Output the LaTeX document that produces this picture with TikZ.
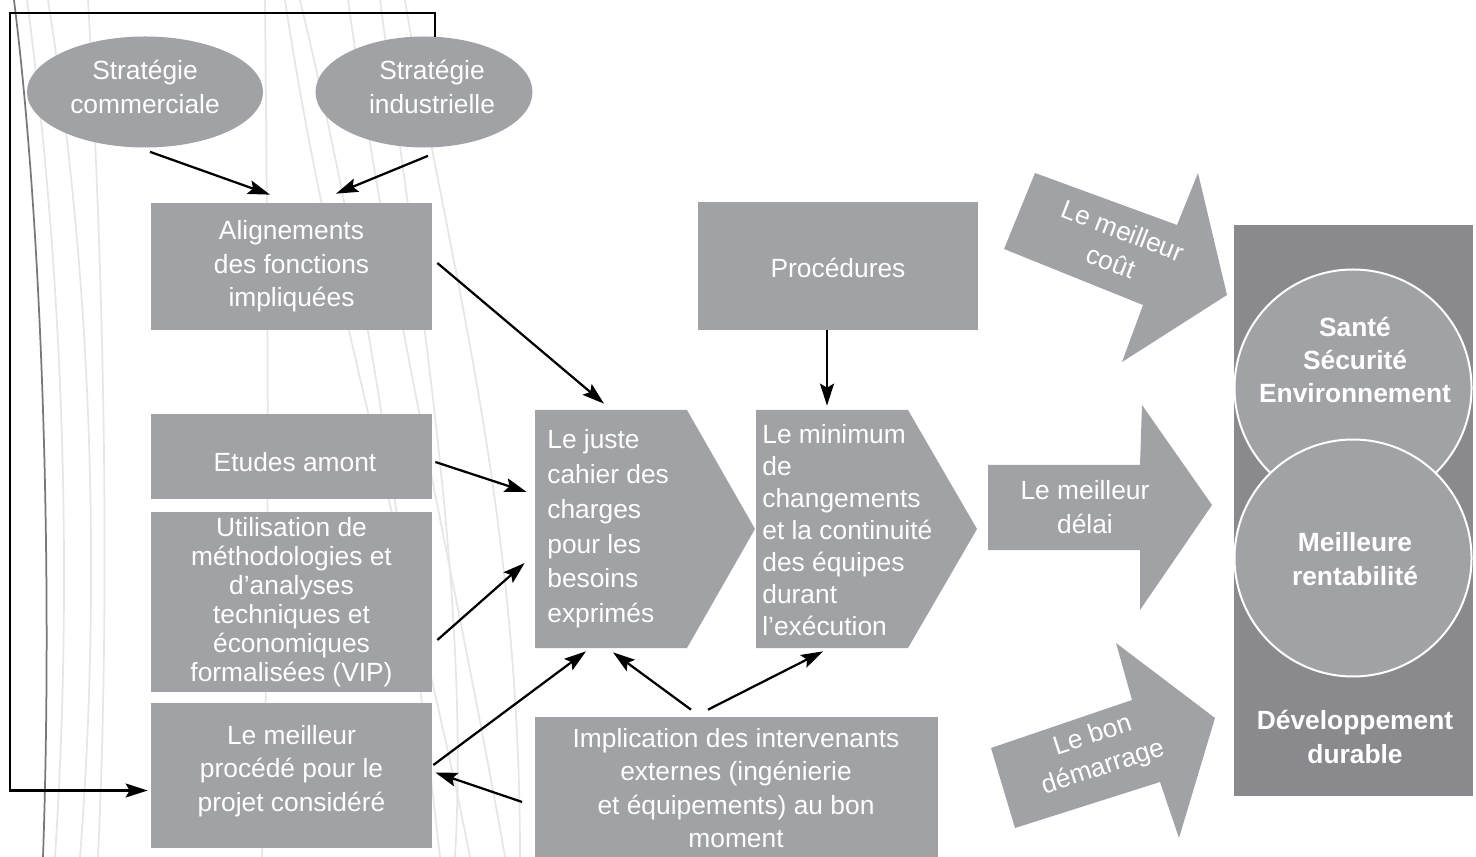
\documentclass[tikz,border=0pt]{standalone}
\usepackage{fontspec}
\setmainfont{Liberation Sans}
\usetikzlibrary{shapes.geometric,arrows.meta}
\definecolor{boxgray}{RGB}{161,162,166}
\definecolor{panelgray}{RGB}{138,138,142}
\definecolor{bgline}{RGB}{230,230,232}
\definecolor{darkline}{RGB}{120,120,124}
\begin{document}
\begin{tikzpicture}[x=0.02cm,y=-0.02cm,
  sz/.style 2 args={minimum width=#1*0.02cm, minimum height=#2*0.02cm},
  box/.style={fill=boxgray, text=white, inner sep=0pt, align=center, font=\fontsize{15}{19}\selectfont},
  ell/.style={ellipse, fill=boxgray, inner sep=0pt},
  txt/.style={text=white, inner sep=0pt, align=left, font=\fontsize{15}{19}\selectfont},
  ctxt/.style={text=white, inner sep=0pt, align=center, font=\fontsize{15}{19}\selectfont},
  btxt/.style={text=white, inner sep=0pt, align=center, font=\fontsize{15}{19}\selectfont\bfseries},
  area/.style={inner sep=0pt},
  conn/.style={draw=black, line width=0.045cm, -{Stealth[length=0.44cm,width=0.28cm,inset=0.08cm]}},
  fback/.style={draw=black, line width=0.045cm},
  bg/.style={draw=bgline, line width=0.035cm},
  blockarrow/.style={fill=boxgray}
]
\useasboundingbox (0,0) rectangle (1476,857);

% background decorative curves
\draw[bg] (27,0) .. controls (60,250) and (75,550) .. (55,857);
\draw[bg] (48,0) .. controls (95,300) and (100,600) .. (80,857);
\draw[bg] (88,0) .. controls (105,300) and (110,600) .. (98,857);
\draw[bg] (265,0) .. controls (268,300) and (270,600) .. (262,857);
\draw[bg] (285,0) .. controls (330,300) and (420,600) .. (470,857);
\draw[bg] (348,0) .. controls (390,300) and (460,600) .. (505,857);
\draw[bg] (380,0) .. controls (420,300) and (470,600) .. (455,857);
\draw[bg] (405,0) .. controls (445,250) and (520,500) .. (520,857);
\draw[bg] (300,0) .. controls (360,250) and (400,500) .. (440,857);
\draw[draw=darkline, line width=0.035cm] (14,0) .. controls (45,250) and (52,600) .. (43,857);

% ellipses
\node[ell, minimum width=236*0.02cm, minimum height=111*0.02cm] (sc) at (145,92) {};
\node[ctxt] (sct) at (145,87) {Stratégie\\commerciale};
\node[ell, minimum width=217*0.02cm, minimum height=111*0.02cm] (si) at (424,92) {};
\node[ctxt] (sit) at (432,87) {Stratégie\\industrielle};

% left boxes
\node[box, sz={281}{127}] (al) at (291.5,266.5) {Alignements\\des fonctions\\impliquées};
\node[box, sz={281}{85}] (et) at (291.5,456.5) {};
\node[ctxt] (ett) at (295,462) {Etudes amont};
\node[box, sz={281}{180}, font=\fontsize{15}{16.5}\selectfont] (ut) at (291.5,602) {Utilisation de\\méthodologies et\\d’analyses\\techniques et\\économiques\\formalisées (VIP)};
\node[box, sz={281}{145}] (mp) at (291.5,775.5) {};
\node[ctxt] (mpt) at (291.5,771) {Le meilleur\\procédé pour le\\projet considéré};

% procedures
\node[box, sz={280}{128}] (pr) at (838,266) {};
\node[ctxt] (prt) at (838,268) {Procédures};

% chevrons
\fill[boxgray] (535,410) -- (687,410) -- (755,529) -- (687,648) -- (535,648) -- cycle;
\fill[boxgray] (756,410) -- (908,410) -- (977,529) -- (908,648) -- (756,648) -- cycle;
\node[area, sz={152}{238}] (lj) at (611,529) {};
\node[area, sz={152}{238}] (lm) at (832,529) {};
\node[txt, anchor=west, font=\fontsize{15}{19.8}\selectfont] (ljt) at (547,529) {Le juste\\cahier des\\charges\\pour les\\besoins\\exprimés};
\node[txt, anchor=west, font=\fontsize{15}{18.2}\selectfont] (lmt) at (762,530) {Le minimum\\de\\changements\\et la continuité\\des équipes\\durant\\l’exécution};

% implication
\node[box, sz={403}{142}] (im) at (736,788) {Implication des intervenants\\externes (ingénierie\\et équipements) au bon\\moment};

% right panel
\node[fill=panelgray, sz={239}{571}, inner sep=0pt] (pn) at (1353.5,510.5) {};
\node[circle, fill=boxgray, draw=white, line width=0.04cm, minimum size=237*0.02cm, inner sep=0pt] (c1) at (1353,388) {};
\node[circle, fill=boxgray, draw=white, line width=0.04cm, minimum size=237*0.02cm, inner sep=0pt] (c2) at (1353,558) {};
\node[btxt] (sse) at (1355,360) {Santé\\Sécurité\\Environnement};
\node[btxt] (mr) at (1355,559) {Meilleure\\rentabilité};
\node[btxt] (dd) at (1355,737) {Développement\\durable};

% block arrows
\fill[blockarrow] (1035,173) -- (1177,225) -- (1198,173) -- (1227,295) -- (1122,362) -- (1143,305) -- (1004,249) -- cycle;
\node[ctxt, rotate=-21] (a1) at (1117,246) {Le meilleur\\coût};
\fill[blockarrow] (988,465) -- (1140,465) -- (1142,405) -- (1212,505) -- (1140,610) -- (1140,550) -- (988,550) -- cycle;
\node[ctxt] (a2) at (1085,507) {Le meilleur\\délai};
\fill[blockarrow] (991,748) -- (1132,700) -- (1116,643) -- (1215,718) -- (1179,838) -- (1160,782) -- (1015,828) -- cycle;
\node[ctxt, rotate=18] (a3) at (1098,752) {Le bon\\démarrage};

% connectors
\draw[conn] ([shift={(5,4)}]sc.south) -- ([shift={(-21.5,-8)}]al.north);
\draw[conn] ([shift={(4,8)}]si.south) -- ([shift={(44.5,-9)}]al.north);
\draw[conn] ([shift={(5,-3.5)}]al.east) -- ([shift={(-7,-6)}]lj.north);
\draw[conn] ([shift={(3,5.5)}]et.east) -- ([shift={(-8,-37)}]lj.west);
\draw[conn] ([shift={(5,38)}]ut.east) -- ([shift={(-10,34)}]lj.west);
\draw[conn] ([shift={(1,-10.5)}]mp.east) -- ([shift={(-25,3)}]lj.south);
\draw[conn] ([shift={(-45,-7)}]im.north) -- ([shift={(2,4)}]lj.south);
\draw[conn] ([shift={(-28,-7)}]im.north) -- ([shift={(-9,3)}]lm.south);
\draw[conn] ([shift={(-12,14)}]im.west) -- ([shift={(3,-3)}]mp.east);
\draw[conn] ([shift={(-11,0)}]pr.south) -- ([shift={(-5,-4)}]lm.north);

% feedback loop
\draw[fback] ([shift={(11,0.5)}]si.north) -- ++(0,-24) coordinate (fb1) -| (10,400) coordinate (fb2);
\draw[conn] (fb2) |- ([shift={(-3,15)}]mp.west);
\end{tikzpicture}
\end{document}
